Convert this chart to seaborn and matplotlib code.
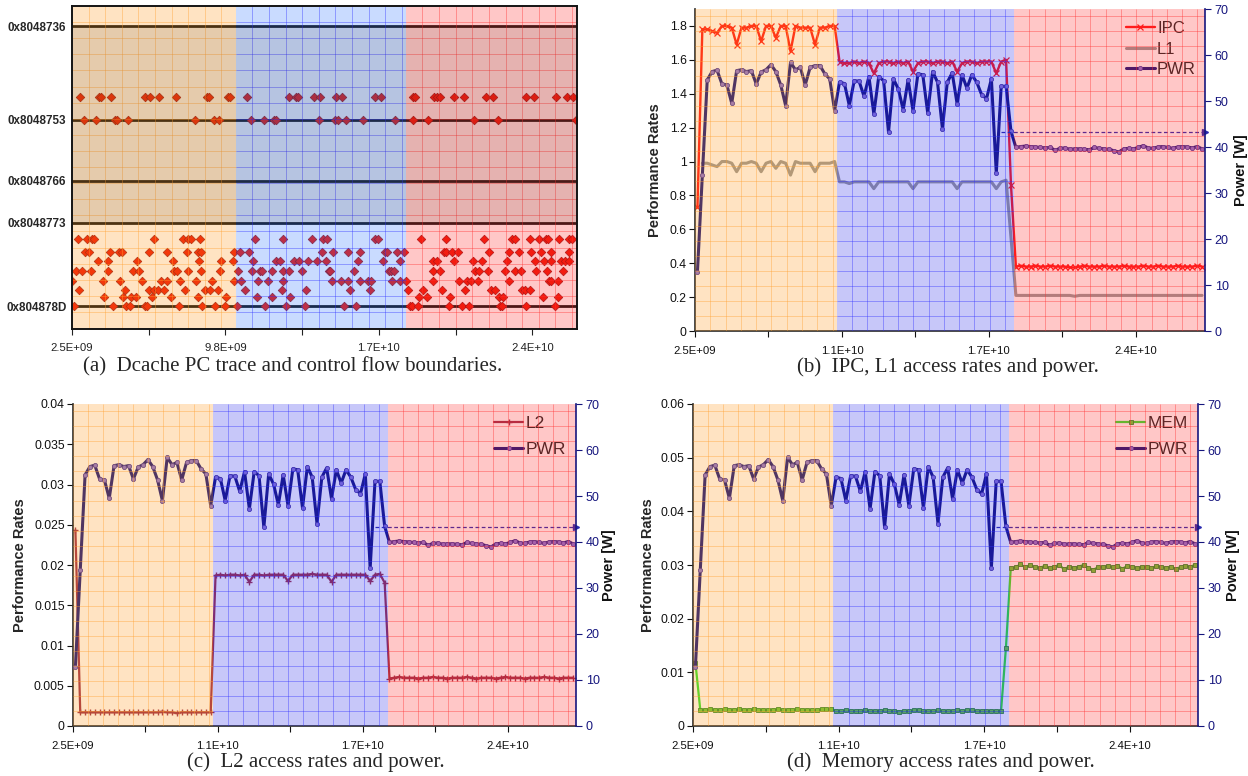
import numpy as np
import pandas as pd
import matplotlib
matplotlib.use("Agg")
import matplotlib.pyplot as plt
import seaborn as sns
from matplotlib.ticker import FuncFormatter, FixedLocator
from matplotlib.lines import Line2D

sns.set_theme(style="white")
plt.rcParams['font.family'] = ['Liberation Sans', 'DejaVu Sans']

# ---------------------------------------------------------------- data
sample = list(range(104))

pwr = [12.9, 33.9, 54.6, 56.4, 56.7, 53.7, 53.5, 49.5, 56.6, 56.8, 56.4, 56.6, 53.7, 56.3, 56.8,
       57.9, 56.4, 53.5, 49.0, 58.4, 56.8, 57.3, 53.5, 57.3, 57.7, 57.7, 55.9, 54.8, 47.9,
       54.1, 53.8, 49.0, 54.4, 54.3, 51.0, 55.3, 47.2, 55.3, 54.4, 43.2, 54.8, 52.6, 48.1,
       54.6, 47.9, 55.9, 55.7, 47.4, 56.4, 54.1, 44.0, 54.1, 56.1, 49.4, 55.7, 52.8, 55.7,
       54.1, 51.4, 50.5, 54.8, 34.3, 53.2, 53.2, 43.4,
       39.9, 40.1, 40.2, 40.1, 40.0, 39.9, 39.8, 39.9, 39.3, 39.7, 39.8, 39.5, 39.6, 39.6,
       39.5, 39.4, 39.9, 39.7, 39.6, 39.5, 39.2, 38.9, 39.6, 39.7, 39.6, 39.9, 40.3, 39.8,
       39.7, 40.0, 40.1, 39.9, 39.7, 40.0, 40.1, 40.0, 39.8, 40.1, 39.6]

ipc = [0.73, 1.78, 1.78, 1.77, 1.76, 1.80, 1.80, 1.79, 1.69, 1.79, 1.79, 1.80, 1.80, 1.71, 1.80,
       1.80, 1.73, 1.80, 1.80, 1.65, 1.80, 1.79, 1.79, 1.79, 1.69, 1.79, 1.79, 1.80, 1.80,
       1.59, 1.58, 1.58, 1.59, 1.58, 1.59, 1.58, 1.52, 1.58, 1.59, 1.59, 1.58, 1.59, 1.58,
       1.59, 1.53, 1.58, 1.59, 1.59, 1.58, 1.59, 1.59, 1.58, 1.59, 1.53, 1.58, 1.59, 1.59,
       1.58, 1.59, 1.59, 1.59, 1.52, 1.59, 1.60, 0.86,
       0.38, 0.385, 0.38, 0.38, 0.385, 0.38, 0.38, 0.385, 0.38, 0.38, 0.38, 0.375, 0.375,
       0.38, 0.385, 0.38, 0.38, 0.38, 0.385, 0.38, 0.38, 0.38, 0.385, 0.38, 0.38, 0.38,
       0.385, 0.38, 0.38, 0.385, 0.38, 0.38, 0.38, 0.385, 0.38, 0.38, 0.38, 0.385, 0.38]

l1 = [np.nan, 0.99, 0.99, 0.98, 0.97, 1.00, 1.00, 0.99, 0.94, 0.99, 0.99, 1.00, 0.99, 0.94,
      0.99, 1.00, 0.96, 1.00, 0.99, 0.92, 1.00, 0.99, 0.99, 0.99, 0.94, 0.99, 0.99, 0.99, 1.00,
      0.88, 0.88, 0.87, 0.88, 0.88, 0.88, 0.88, 0.84, 0.88, 0.88, 0.88, 0.88, 0.88, 0.88,
      0.88, 0.84, 0.88, 0.88, 0.88, 0.88, 0.88, 0.88, 0.88, 0.88, 0.84, 0.88, 0.88, 0.88,
      0.88, 0.88, 0.88, 0.88, 0.84, 0.88, 0.89, 0.55,
      0.21, 0.21, 0.21, 0.21, 0.21, 0.21, 0.21, 0.21, 0.21, 0.21, 0.21, 0.21, 0.205, 0.21,
      0.21, 0.21, 0.21, 0.21, 0.21, 0.21, 0.21, 0.21, 0.21, 0.21, 0.21, 0.21, 0.21, 0.21,
      0.21, 0.21, 0.21, 0.21, 0.21, 0.21, 0.21, 0.21, 0.21, 0.21, 0.21]

l2 = [0.0243, 0.0017, 0.0017, 0.0017, 0.0017, 0.0017, 0.0017, 0.0017, 0.0017, 0.0017, 0.0017,
      0.0017, 0.0017, 0.0017, 0.0017, 0.0017, 0.0017, 0.0017, 0.0018, 0.0017, 0.0017, 0.0016,
      0.0017, 0.0017, 0.0017, 0.0017, 0.0017, 0.0017, 0.0017,
      0.0187, 0.0188, 0.0187, 0.0188, 0.0188, 0.0187, 0.0188, 0.0179, 0.0188, 0.0188, 0.0187,
      0.0188, 0.0188, 0.0188, 0.0188, 0.0180, 0.0188, 0.0188, 0.0188, 0.0188, 0.0189, 0.0188,
      0.0188, 0.0188, 0.0179, 0.0188, 0.0188, 0.0188, 0.0188, 0.0188, 0.0188, 0.0188, 0.0180,
      0.0188, 0.0189, 0.0178,
      0.0059, 0.0060, 0.0061, 0.0060, 0.0060, 0.0060, 0.0059, 0.0060, 0.0060, 0.0061, 0.0060,
      0.0060, 0.0059, 0.0060, 0.0060, 0.0060, 0.0061, 0.0060, 0.0059, 0.0060, 0.0060, 0.0060,
      0.0059, 0.0060, 0.0061, 0.0060, 0.0060, 0.0060, 0.0059, 0.0060, 0.0060, 0.0060, 0.0061,
      0.0060, 0.0060, 0.0059, 0.0060, 0.0060, 0.0060]

mem = [0.0118, 0.0030, 0.0030, 0.0031, 0.0030, 0.0030, 0.0031, 0.0030, 0.0030, 0.0031, 0.0030,
       0.0030, 0.0031, 0.0030, 0.0030, 0.0029, 0.0030, 0.0031, 0.0030, 0.0029, 0.0030, 0.0031,
       0.0030, 0.0030, 0.0029, 0.0030, 0.0031, 0.0031, 0.0031,
       0.0028, 0.0028, 0.0029, 0.0028, 0.0028, 0.0028, 0.0029, 0.0028, 0.0028, 0.0028, 0.0029,
       0.0028, 0.0028, 0.0027, 0.0028, 0.0028, 0.0029, 0.0030, 0.0028, 0.0028, 0.0028, 0.0029,
       0.0028, 0.0028, 0.0028, 0.0029, 0.0028, 0.0029, 0.0029, 0.0028, 0.0028, 0.0028, 0.0028,
       0.0028, 0.0028, 0.0145,
       0.0294, 0.0296, 0.0301, 0.0296, 0.0300, 0.0296, 0.0295, 0.0298, 0.0294, 0.0297, 0.0300,
       0.0292, 0.0297, 0.0295, 0.0297, 0.0300, 0.0295, 0.0291, 0.0296, 0.0297, 0.0298, 0.0296,
       0.0299, 0.0293, 0.0298, 0.0297, 0.0295, 0.0296, 0.0297, 0.0294, 0.0298, 0.0296, 0.0295,
       0.0297, 0.0293, 0.0296, 0.0298, 0.0297, 0.0300]

x_labels_bcd = ["2.5E+09", "", "1.1E+10", "", "1.7E+10", "", "2.4E+10"]
phase_bounds_bcd = [-0.5, 28.45, 64.6, 103.6]
pwr_reference = 43.2
pwr_reference_start = 62

# panel (a): time in units of 1e9 cycles, one list per PC row
x_labels_a = ["2.5E+09", "", "9.8E+09", "", "1.7E+10", "", "2.4E+10"]
phase_bounds_a = [2.5, 10.29, 18.38, 26.52]
pc_ticks = ["0x8048736", "0x8048753", "0x8048766", "0x8048773", "0x804878D"]

pc_804874C = [2.90, 3.77, 3.90, 4.36, 5.96, 6.23, 6.65, 7.45, 8.91, 9.00, 9.91, 10.00, 10.82,
              12.83, 13.15, 13.24, 14.01, 14.28, 15.07, 15.34, 16.92, 17.20, 18.74, 18.83,
              19.71, 19.87, 20.02, 20.66, 21.15, 22.17, 22.53, 24.11, 24.48, 25.52, 26.03, 26.34]
pc_8048753 = [3.05, 3.63, 4.54, 4.63, 5.18, 8.36, 9.24, 9.49, 11.00, 11.61, 12.10, 12.22, 14.23,
              15.01, 15.14, 15.52, 16.34, 17.87, 18.71, 19.44, 21.62, 22.75, 26.48]
pc_8048778 = [2.77, 3.23, 3.45, 3.56, 6.40, 7.76, 8.00, 8.18, 8.58, 11.19, 12.52, 13.92, 14.46,
              14.65, 16.89, 17.07, 19.11, 20.29, 22.11, 23.44, 23.57, 24.30, 24.72, 25.03, 25.12,
              25.66, 26.15, 26.26]
pc_804877C = [3.12, 3.30, 4.30, 4.72, 4.87, 6.18, 7.00, 7.96, 8.49, 8.64, 10.22, 10.51, 10.91,
              14.37, 14.92, 15.65, 16.19, 17.38, 17.47, 17.98, 18.29, 20.20, 20.29, 20.56, 20.84,
              22.35, 23.30, 23.75, 24.35, 24.81, 25.30, 26.15]
pc_804877F = [3.72, 4.21, 5.60, 7.31, 8.55, 9.60, 10.18, 11.10, 12.22, 12.37, 13.06, 13.28, 13.74,
              14.15, 14.56, 16.10, 17.29, 18.11, 19.65, 19.84, 20.66, 21.57, 22.02, 23.20, 24.53,
              24.93, 25.30, 25.75, 25.94, 26.12]
pc_8048782 = [2.68, 2.99, 3.41, 4.21, 5.41, 5.67, 7.36, 7.49, 8.00, 8.64, 9.55, 10.40, 11.06,
              11.46, 11.55, 12.01, 12.55, 12.83, 13.46, 14.74, 14.77, 15.92, 17.56, 17.69, 17.83,
              19.65, 20.02, 21.66, 21.84, 22.29, 23.11, 23.57, 23.84, 24.57, 25.08, 25.85]
pc_8048785 = [2.50, 3.96, 4.78, 5.85, 6.72, 7.03, 7.64, 8.40, 9.18, 10.22, 10.55, 11.37, 11.82,
              12.52, 14.88, 15.28, 15.65, 16.19, 16.56, 16.74, 17.74, 18.11, 18.38, 19.65, 20.89,
              21.29, 21.47, 21.80, 23.30, 25.21, 25.30, 25.63]
pc_8048788 = [2.83, 5.00, 6.16, 6.40, 6.59, 6.87, 7.87, 8.82, 9.06, 9.44, 10.72, 12.48, 13.65,
              15.74, 16.67, 18.47, 19.18, 20.11, 21.18, 22.42, 22.60, 23.89, 24.03, 24.27]
pc_804878A = [4.02, 4.92, 5.30, 5.54, 6.30, 7.21, 8.49, 9.82, 11.29, 12.01, 12.86, 19.0, 19.4,
              20.5, 22.8, 23.0, 24.9, 25.6]
pc_804878D = [2.60, 4.45, 5.07, 5.26, 5.97, 6.06, 7.59, 8.68, 9.30, 9.77, 10.34, 11.67, 12.67,
              13.57, 15.43, 16.00, 18.57, 18.66, 18.94, 20.42, 21.03, 21.37, 22.84, 22.94, 24.08,
              25.46]

pc_rows = {"0x804874C": pc_804874C, "0x8048753": pc_8048753, "0x8048778": pc_8048778,
           "0x804877C": pc_804877C, "0x804877F": pc_804877F, "0x8048782": pc_8048782,
           "0x8048785": pc_8048785, "0x8048788": pc_8048788, "0x804878A": pc_804878A,
           "0x804878D": pc_804878D}

# ---------------------------------------------------------------- styling
W, H = 1248, 776
NAVY = "#16167e"
REG_COLORS = ["#ff930f", "#2323eb", "#ff2323"]
REG_COLORS_A = ["#ff930f", "#2870ff", "#ff2323"]
GRID_COLORS = ["#ffa030", "#3030ff", "#ff3030"]
OVER_ALPHA = 0.25


def rect(l, t, r, b):
    return [l / W, 1 - b / H, (r - l) / W, (b - t) / H]


def overlay(ax, bounds, ylo, yhi, dx, dy, colors, z=20):
    for i in range(3):
        x0, x1 = bounds[i], bounds[i + 1]
        ax.axvspan(x0, x1, color=colors[i], alpha=OVER_ALPHA, lw=0, zorder=z)
        xs = np.arange(x0 + dx, x1 - dx * 0.2, dx)
        ax.vlines(xs, ylo, yhi, colors=GRID_COLORS[i], lw=0.6, alpha=0.45, zorder=z + 1)
        ys = np.arange(min(ylo, yhi) + abs(dy), max(ylo, yhi), abs(dy))
        ax.hlines(ys, x0, x1, colors=GRID_COLORS[i], lw=0.6, alpha=0.45, zorder=z + 1)


fig = plt.figure(figsize=(W / 100, H / 100), dpi=100)
fig.patch.set_facecolor("white")

TICK_FS = 8.2
fmt_g = FuncFormatter(lambda v, p: f"{v:g}")

# ---------------------------------------------------------------- panel (a)
axA = fig.add_axes(rect(72, 6, 577, 329))
df_a = pd.DataFrame([(t, int(a, 16)) for a, ts in pc_rows.items() for t in ts],
                    columns=["time", "pc"])
pc_vals = [int(p, 16) for p in pc_ticks]
for v in pc_vals:
    axA.axhline(v, color="#141414", lw=2.0, zorder=2)
sns.scatterplot(data=df_a, x="time", y="pc", marker="D", s=19, color="#f01a0a",
                edgecolor="#9a1010", linewidth=0.5, ax=axA, zorder=3, legend=False)
ylo_a = int("0x8048794", 16)
yhi_a = int("0x8048730", 16) - 0.3
axA.set_xlim(phase_bounds_a[0], phase_bounds_a[-1])
axA.set_ylim(ylo_a, yhi_a)
overlay(axA, phase_bounds_a, ylo_a, yhi_a, 0.79, 5.0, REG_COLORS_A)
axA.axhspan(pc_vals[0], pc_vals[3], color="#3a2a1a", alpha=0.13, lw=0, zorder=22)
a_ticks = [phase_bounds_a[0] + 3.65 * k for k in range(7)]
axA.xaxis.set_major_locator(FixedLocator(a_ticks))
axA.set_xticklabels(x_labels_a, fontsize=TICK_FS)
axA.yaxis.set_major_locator(FixedLocator(pc_vals))
axA.set_yticklabels(pc_ticks, fontsize=8.4, fontweight="bold")
axA.tick_params(axis="x", bottom=True, direction="out", length=4, width=0.8, pad=6, colors="#222222")
axA.tick_params(axis="y", left=False, length=0, pad=4)
for s in axA.spines.values():
    s.set_color("#141414")
    s.set_linewidth(1.4)
    s.set_zorder(30)
axA.set_xlabel("")
axA.set_ylabel("")


# ---------------------------------------------------------------- panels (b)-(d)
def perf_panel(r, series, ymax, ystep, legend_items, lab_x, pwr_x):
    ax = fig.add_axes(r)
    ax2 = ax.twinx()
    handles = []
    for vals, kw, lab in series:
        sns.lineplot(x=sample, y=vals, ax=ax, estimator=None, sort=False, legend=False, **kw)
        handles.append(Line2D([], [], **kw))
    pw_kw = dict(color=NAVY, linewidth=2.2, marker="o", markersize=3.0, markerfacecolor="#8a78d8",
                 markeredgecolor="#4a3aa0", markeredgewidth=0.6)
    sns.lineplot(x=sample, y=pwr, ax=ax2, estimator=None, sort=False, legend=False, **pw_kw)
    handles.append(Line2D([], [], **pw_kw))
    labels = [s[2] for s in series] + ["PWR"]

    xmax = phase_bounds_bcd[-1]
    ax.set_xlim(phase_bounds_bcd[0], xmax)
    ax.set_ylim(0, ymax)
    ax2.set_ylim(0, 70)
    ax2.plot([pwr_reference_start, xmax], [pwr_reference, pwr_reference], ls=(0, (3, 2)),
             color="#2a2ab0", lw=0.9, zorder=5)
    ax2.plot([xmax], [pwr_reference], marker=">", color="#2a2ab0", markersize=4,
             clip_on=False, zorder=5)
    leg = ax2.legend(handles, labels, loc="upper right", bbox_to_anchor=(1.005, 1.0),
                     frameon=False, fontsize=legend_items["fs"], handlelength=1.7,
                     handletextpad=0.15, labelspacing=legend_items["sp"], borderaxespad=0.3)
    leg.set_zorder(6)
    overlay(ax2, phase_bounds_bcd, 0, 70, 3.12, 3.26, REG_COLORS)

    ticks = [phase_bounds_bcd[0] + 15 * k for k in range(7)]
    ax.xaxis.set_major_locator(FixedLocator(ticks))
    ax.set_xticklabels(x_labels_bcd, fontsize=TICK_FS)
    ax.yaxis.set_major_locator(FixedLocator(np.arange(0, ymax + 1e-9, ystep)))
    ax.yaxis.set_major_formatter(fmt_g)
    ax.tick_params(axis="y", left=True, direction="out", length=4, width=0.8,
                   labelsize=8.8, pad=2, colors="#111111")
    ax.tick_params(axis="x", bottom=True, direction="out", length=4, width=0.8,
                   pad=7, colors="#111111")
    ax2.yaxis.set_major_locator(FixedLocator(np.arange(0, 71, 10)))
    ax2.tick_params(axis="y", right=True, direction="out", length=4, width=0.8,
                    labelsize=9, pad=3, colors=NAVY)
    for a in (ax, ax2):
        a.spines["top"].set_visible(False)
        a.set_xlabel("")
    ax.spines["left"].set_color("#333333")
    ax.spines["bottom"].set_color("#333333")
    ax.spines["right"].set_visible(False)
    ax2.spines["left"].set_visible(False)
    ax2.spines["bottom"].set_visible(False)
    ax2.spines["right"].set_color(NAVY)
    ax2.spines["right"].set_linewidth(1.2)
    ax2.spines["right"].set_zorder(30)
    ax.set_ylabel("Performance Rates", fontsize=10.5, fontweight="bold")
    ax.yaxis.set_label_coords(lab_x, 0.5)
    ax2.set_ylabel("Power [W]", fontsize=10.5, fontweight="bold", color="#111111")
    ax2.yaxis.set_label_coords(pwr_x, 0.5)
    return ax, ax2


ipc_kw = dict(color="#ff1a1a", linewidth=1.7, marker="x", markersize=4, markeredgewidth=0.9,
              markeredgecolor="#ff1a1a")
l1_kw = dict(color="#9a9a9a", linewidth=2.2)
l2_kw = dict(color="#a0304a", linewidth=1.6, marker="+", markersize=5, markeredgewidth=1.0,
             markeredgecolor="#a0304a")
mem_kw = dict(color="#33e633", linewidth=1.6, marker="s", markersize=3.2, markerfacecolor="#6ccc3c",
              markeredgecolor="#2f8a2f", markeredgewidth=0.6)

perf_panel(rect(695, 9, 1205, 331),
           [(ipc, ipc_kw, "IPC"), (l1, l1_kw, "L1")], 1.9, 0.2,
           {"fs": 12, "sp": 0.35}, -0.065, 1.057)
perf_panel(rect(73, 404, 576, 726),
           [(l2, l2_kw, "L2")], 0.04, 0.005,
           {"fs": 12.5, "sp": 0.6}, -0.091, 1.052)
perf_panel(rect(693, 404, 1198, 726),
           [(mem, mem_kw, "MEM")], 0.06, 0.01,
           {"fs": 12.5, "sp": 0.6}, -0.075, 1.055)

# ---------------------------------------------------------------- captions
cap_kw = dict(ha="center", va="center", fontsize=15, family=["Liberation Serif", "DejaVu Serif"])
fig.text(293 / W, 1 - 367 / H, "(a)  Dcache PC trace and control flow boundaries.", **cap_kw)
fig.text(948 / W, 1 - 367 / H, "(b)  IPC, L1 access rates and power.", **cap_kw)
fig.text(316 / W, 1 - 762 / H, "(c)  L2 access rates and power.", **cap_kw)
fig.text(941 / W, 1 - 762 / H, "(d)  Memory access rates and power.", **cap_kw)

fig.savefig("out.png", dpi=100)
